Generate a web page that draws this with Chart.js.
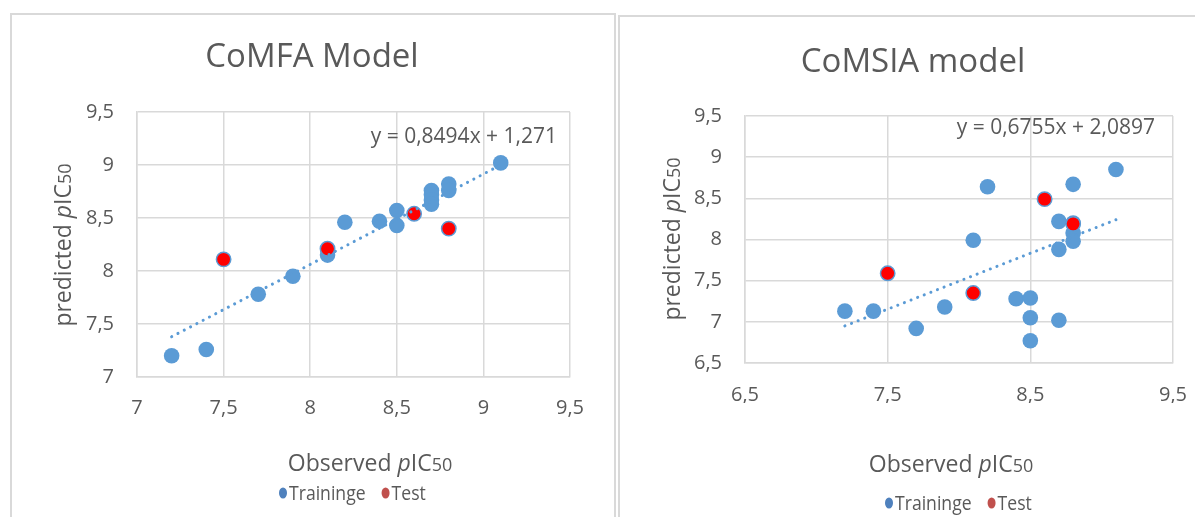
<!DOCTYPE html>
<html>
<head>
<meta charset="utf-8">
<script src="https://cdn.jsdelivr.net/npm/chart.js@4.4.1/dist/chart.umd.min.js"></script>
<style>
  body { margin: 0; background: #fff; width: 1195px; height: 517px; overflow: hidden; position: relative; }
  .box { position: absolute; border: 2px solid #d9d9d9; border-bottom: none; box-sizing: border-box; }
  canvas { position: absolute; top: 0; }
</style>
</head>
<body>
<div class="box" style="left:10px; top:13px; width:606px; height:520px;"></div>
<div class="box" style="left:618px; top:15px; width:600px; height:520px;"></div>
<canvas id="comfa" width="616" height="517" style="left:0"></canvas>
<canvas id="comsia" width="578" height="517" style="left:617px"></canvas>
<script>
// CoMFA model
const comfaTrainX = [7.2, 7.4, 7.7, 7.9, 8.1, 8.2, 8.4, 8.5, 8.5, 8.7, 8.7, 8.7, 8.7, 8.8, 8.8, 9.1];
const comfaTrainY = [7.2, 7.26, 7.78, 7.95, 8.15, 8.46, 8.47, 8.57, 8.43, 8.76, 8.72, 8.67, 8.63, 8.82, 8.76, 9.02];
const comfaTestX = [7.5, 8.1, 8.6, 8.8];
const comfaTestY = [8.11, 8.21, 8.54, 8.40];
const comfaTrendX = [7.2, 9.1];
const comfaTrendY = [7.38, 9.0];
const comfaXTicks = [7, 7.5, 8, 8.5, 9, 9.5];
const comfaYTicks = [7, 7.5, 8, 8.5, 9, 9.5];

// CoMSIA model
const comsiaTrainX = [7.2, 7.4, 7.7, 7.9, 8.1, 8.2, 8.4, 8.5, 8.5, 8.5, 8.7, 8.7, 8.7, 8.8, 8.8, 8.8, 8.8, 9.1];
const comsiaTrainY = [7.13, 7.13, 6.92, 7.18, 7.99, 8.64, 7.28, 7.29, 7.05, 6.77, 8.22, 7.88, 7.02, 8.67, 8.2, 8.08, 7.98, 8.85];
const comsiaTestX = [7.5, 8.1, 8.6, 8.8];
const comsiaTestY = [7.59, 7.35, 8.49, 8.19];
const comsiaTrendX = [7.2, 9.1];
const comsiaTrendY = [6.95, 8.24];
const comsiaXTicks = [6.5, 7.5, 8.5, 9.5];
const comsiaYTicks = [6.5, 7, 7.5, 8, 8.5, 9, 9.5];

const seriesNames = ['Traininge', 'Test'];
const legendColors = ['#4f81bd', '#c0504d'];

const textColor = '#595959';
const fam = '"Open Sans", sans-serif';

function points(xs, ys) {
    return xs.map((x, i) => ({x: x, y: ys[i]}));
}

// text made of pieces with different fonts, centred on x, baseline y
function drawParts(ctx, parts, x, y) {
    let total = 0;
    for (const p of parts) {
        ctx.font = p.font;
        total += ctx.measureText(p.text).width;
    }
    let cx = x - total / 2;
    ctx.textAlign = 'left';
    ctx.textBaseline = 'alphabetic';
    for (const p of parts) {
        ctx.font = p.font;
        ctx.fillText(p.text, cx, y);
        cx += ctx.measureText(p.text).width;
    }
}

function pIC50(prefix) {
    return [
        {text: prefix + ' ', font: '23px ' + fam},
        {text: 'p', font: 'italic 23px ' + fam},
        {text: 'IC', font: '23px ' + fam},
        {text: '50', font: '18px ' + fam}
    ];
}

const decor = {
    id: 'decor',
    afterDraw(chart, args, o) {
        const ctx = chart.ctx;
        ctx.save();
        ctx.fillStyle = textColor;
        ctx.textBaseline = 'alphabetic';

        ctx.font = '33px ' + fam;
        ctx.textAlign = 'center';
        ctx.fillText(o.title, o.titleX, o.titleY);

        ctx.font = '21px ' + fam;
        ctx.textAlign = 'right';
        ctx.fillText(o.equation, o.eqX, o.eqY);

        drawParts(ctx, pIC50('Observed'), o.xTitleX, o.xTitleY);

        ctx.save();
        ctx.translate(o.yTitleX, o.yTitleY);
        ctx.rotate(-Math.PI / 2);
        drawParts(ctx, pIC50('predicted'), 0, 8);
        ctx.restore();

        // legend
        let x = o.legendX;
        ctx.font = '20px ' + fam;
        ctx.textAlign = 'left';
        seriesNames.forEach((name, i) => {
            ctx.fillStyle = legendColors[i];
            ctx.beginPath();
            ctx.ellipse(x + 4, o.legendDotY, 4, 5.5, 0, 0, Math.PI * 2);
            ctx.fill();
            ctx.fillStyle = textColor;
            const w = ctx.measureText(name).width * 0.88;
            ctx.save();
            ctx.translate(x + 10, o.legendY);
            ctx.scale(0.88, 1);
            ctx.fillText(name, 0, 0);
            ctx.restore();
            x += 10 + w + 16;
        });
        ctx.restore();
    }
};

function axis(min, max, ticks, pad, size, vertical) {
    return {
        type: 'linear',
        min: min,
        max: max,
        afterBuildTicks: s => { s.ticks = ticks.map(v => ({value: v})); },
        afterFit: s => {
            if (vertical) s.width = size; else s.height = size;
            s.paddingLeft = 0; s.paddingRight = 0; s.paddingTop = 0; s.paddingBottom = 0;
        },
        grid: {color: '#d9d9d9', lineWidth: 1.5, drawTicks: false},
        border: {color: '#d9d9d9', width: 1.5},
        ticks: {
            padding: pad,
            color: textColor,
            font: {family: fam, size: 20},
            callback: v => String(v).replace('.', ',')
        }
    };
}

function makeChart(id, c) {
    return new Chart(document.getElementById(id), {
        type: 'scatter',
        data: {
            datasets: [
                {
                    label: 'trend',
                    data: points(c.trendX, c.trendY),
                    showLine: true,
                    borderColor: '#5b9bd5',
                    borderWidth: 3,
                    borderDash: [0.1, 7],
                    borderCapStyle: 'round',
                    pointRadius: 0,
                    order: 0
                },
                {
                    label: seriesNames[1],
                    data: points(c.testX, c.testY),
                    backgroundColor: '#ff0000',
                    borderColor: '#5b9bd5',
                    borderWidth: 1.5,
                    pointRadius: 7.2,
                    order: 1
                },
                {
                    label: seriesNames[0],
                    data: points(c.trainX, c.trainY),
                    backgroundColor: '#5b9bd5',
                    borderColor: '#5b9bd5',
                    borderWidth: 0,
                    pointRadius: 7.8,
                    order: 2
                }
            ]
        },
        options: {
            responsive: false,
            animation: false,
            devicePixelRatio: 1,
            events: [],
            layout: {padding: c.padding},
            plugins: {
                legend: {display: false},
                tooltip: {enabled: false},
                decor: c.decor
            },
            scales: {
                x: axis(c.xTicks[0], c.xTicks[c.xTicks.length - 1], c.xTicks, c.xPad, 40, false),
                y: axis(c.yTicks[0], c.yTicks[c.yTicks.length - 1], c.yTicks, 23, c.yWidth, true)
            }
        },
        plugins: [decor]
    });
}

makeChart('comfa', {
    trainX: comfaTrainX, trainY: comfaTrainY,
    testX: comfaTestX, testY: comfaTestY,
    trendX: comfaTrendX, trendY: comfaTrendY,
    xTicks: comfaXTicks, yTicks: comfaYTicks,
    padding: {left: 0, right: 46, top: 112, bottom: 100},
    yWidth: 137, xPad: 19,
    decor: {
        title: 'CoMFA Model', titleX: 312, titleY: 67,
        equation: 'y = 0,8494x + 1,271', eqX: 557, eqY: 143,
        xTitleX: 370, xTitleY: 471,
        yTitleX: 63, yTitleY: 245,
        legendX: 279, legendDotY: 493, legendY: 500
    }
});

makeChart('comsia', {
    trainX: comsiaTrainX, trainY: comsiaTrainY,
    testX: comsiaTestX, testY: comsiaTestY,
    trendX: comsiaTrendX, trendY: comsiaTrendY,
    xTicks: comsiaXTicks, yTicks: comsiaYTicks,
    padding: {left: 0, right: 22, top: 116, bottom: 114},
    yWidth: 128, xPad: 20,
    decor: {
        title: 'CoMSIA model', titleX: 296, titleY: 72,
        equation: 'y = 0,6755x + 2,0897', eqX: 538, eqY: 134,
        xTitleX: 334, xTitleY: 472,
        yTitleX: 55, yTitleY: 239,
        legendX: 268, legendDotY: 503, legendY: 510
    }
});
</script>
</body>
</html>
